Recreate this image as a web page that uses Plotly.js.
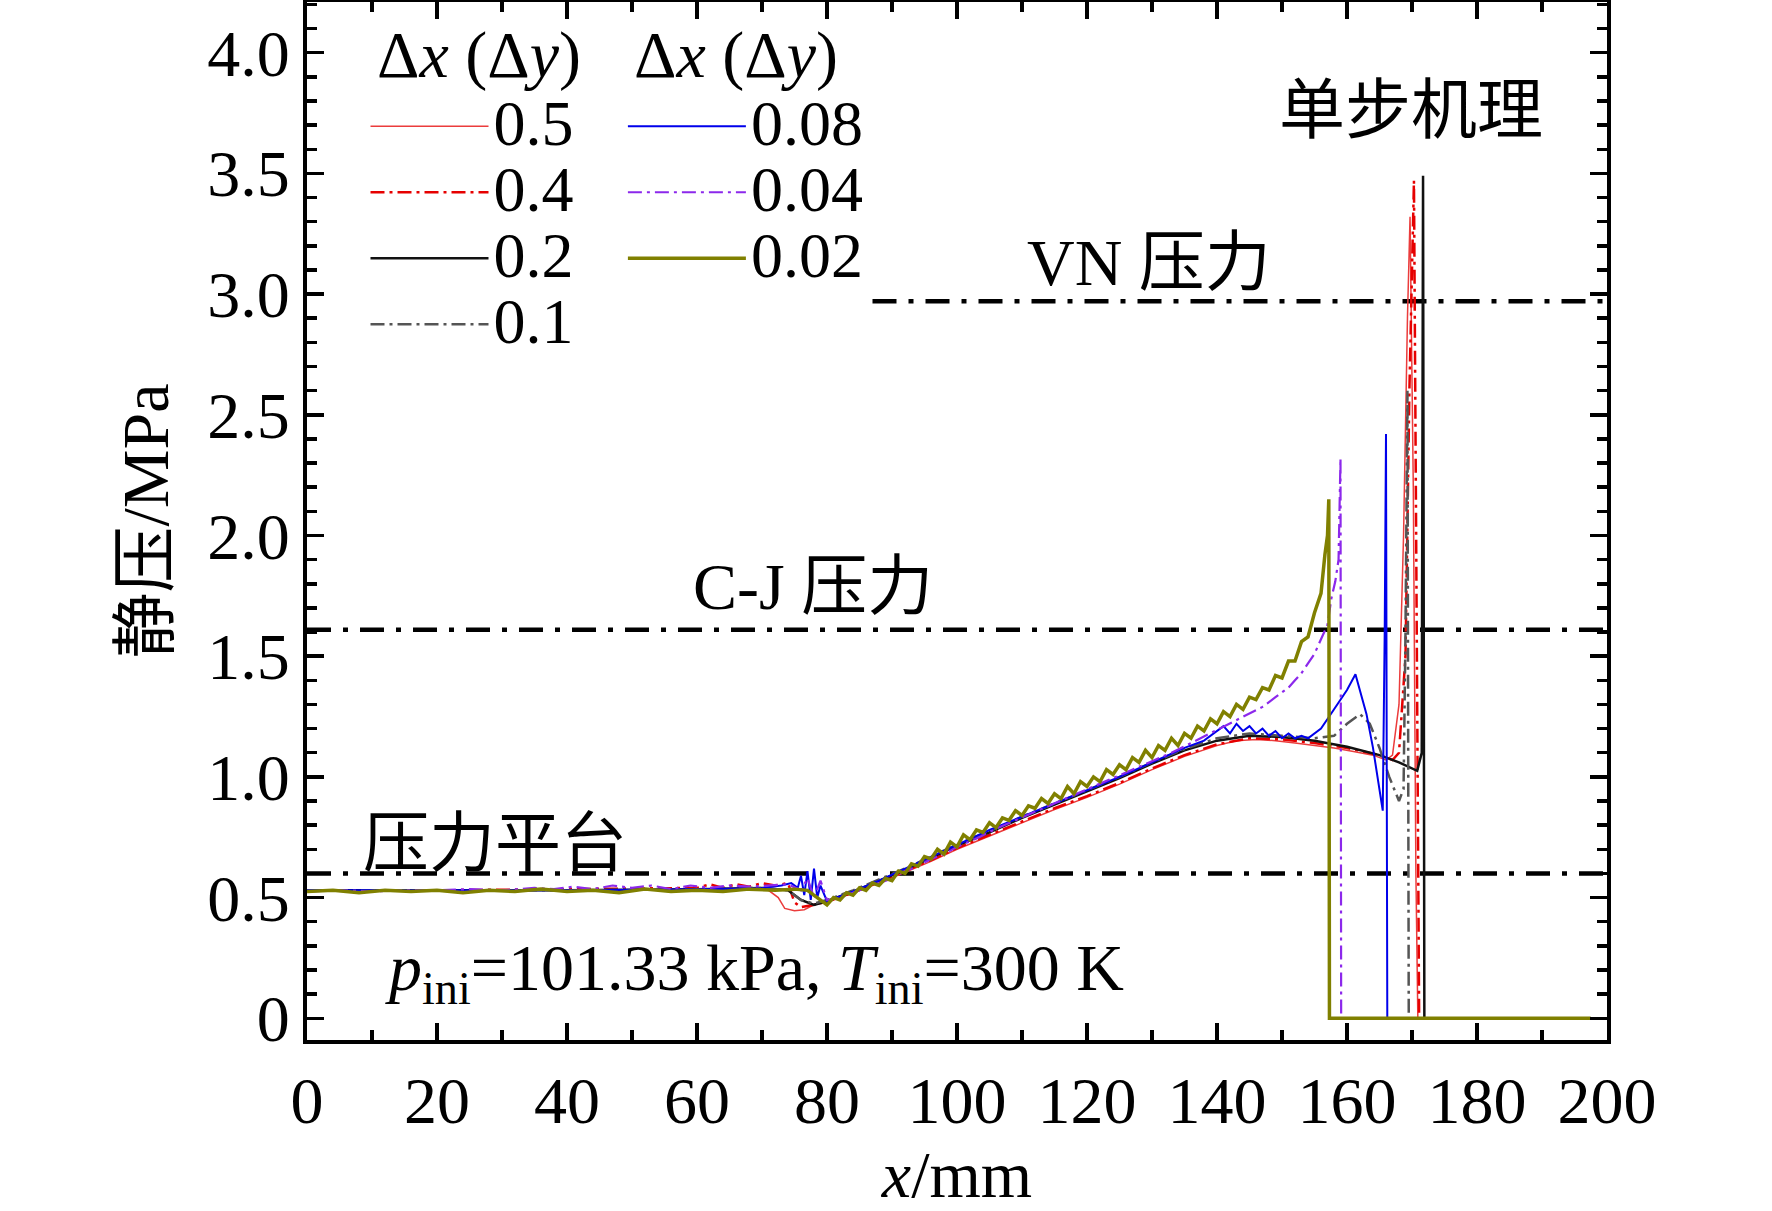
<!DOCTYPE html>
<html>
<head>
<meta charset="utf-8">
<script src="https://cdn.plot.ly/plotly-3.0.1.min.js"></script>
<style>
  html, body { margin: 0; padding: 0; background: #fff; }
  #chart { width: 1772px; height: 1211px; }
</style>
</head>
<body>
<div id="chart"></div>
<script>
/***********
  DATA
************/

// Δx (Δy) = 0.5
const x05 = [0, 20, 40, 60, 68, 71, 72.5, 73.5, 75, 76.5, 78, 80, 84, 88, 92, 96, 100, 105, 110, 115, 120, 125, 130, 135, 140, 143, 146, 149, 152, 155, 158, 161, 164, 166, 167, 168, 168.7, 169.3, 169.7, 170.2, 170.6, 170.9, 197.5];
const y05 = [0.53, 0.53, 0.53, 0.535, 0.54, 0.53, 0.5, 0.455, 0.445, 0.45, 0.47, 0.48, 0.52, 0.56, 0.605, 0.65, 0.7, 0.755, 0.81, 0.865, 0.915, 0.97, 1.03, 1.085, 1.13, 1.15, 1.155, 1.15, 1.14, 1.13, 1.12, 1.105, 1.09, 1.07, 1.09, 1.3, 2.0, 2.9, 3.32, 2.2, 0.6, 0, 0];

// Δx (Δy) = 0.4
const x04 = [0, 20, 40, 60, 62, 64, 66, 68, 70, 72, 74, 75, 76, 78, 80, 84, 88, 92, 96, 100, 105, 110, 115, 120, 125, 130, 135, 140, 145, 150, 155, 160, 165, 167, 168, 169, 169.6, 170.3, 170.7, 171.1, 197.5];
const y04 = [0.53, 0.53, 0.535, 0.54, 0.555, 0.54, 0.555, 0.545, 0.56, 0.55, 0.56, 0.48, 0.46, 0.47, 0.485, 0.52, 0.565, 0.61, 0.655, 0.705, 0.76, 0.815, 0.87, 0.92, 0.975, 1.035, 1.09, 1.135, 1.16, 1.155, 1.14, 1.12, 1.09, 1.07, 1.1, 1.5, 2.6, 3.47, 1.8, 0, 0];

// Δx (Δy) = 0.2
const x02 = [0, 20, 40, 60, 70, 74, 76, 78, 80, 84, 88, 92, 96, 100, 105, 110, 115, 120, 125, 130, 135, 140, 145, 150, 155, 160, 165, 168, 170.8, 171.5, 171.7, 171.9, 197.5];
const y02 = [0.53, 0.53, 0.53, 0.535, 0.54, 0.53, 0.49, 0.47, 0.485, 0.525, 0.57, 0.615, 0.665, 0.715, 0.77, 0.83, 0.885, 0.94, 0.995, 1.055, 1.11, 1.15, 1.17, 1.165, 1.15, 1.125, 1.09, 1.06, 1.025, 1.1, 3.49, 0, 0];

// Δx (Δy) = 0.1
const x01 = [0, 20, 40, 60, 70, 74, 76, 78, 80, 84, 88, 92, 96, 100, 105, 110, 115, 120, 125, 130, 135, 140, 145, 150, 155, 158, 160, 162, 163.5, 165, 166.5, 168, 168.7, 169.0, 169.3, 169.5, 197.5];
const y01 = [0.53, 0.53, 0.53, 0.535, 0.54, 0.53, 0.49, 0.475, 0.49, 0.53, 0.575, 0.62, 0.67, 0.72, 0.775, 0.835, 0.89, 0.945, 1.0, 1.06, 1.115, 1.16, 1.18, 1.17, 1.16, 1.17, 1.22, 1.26, 1.22, 1.12, 1.0, 0.9, 0.95, 1.6, 2.6, 0, 0];

// Δx (Δy) = 0.08
const x008 = [0, 20, 40, 60, 70, 73, 74.5, 75.5, 76, 76.5, 77, 77.5, 78, 78.5, 79, 80, 84, 88, 92, 96, 100, 105, 110, 115, 120, 125, 130, 135, 138, 140, 141, 142, 143, 144, 145, 146, 147, 148, 149, 150, 151, 152, 153, 154, 155, 156, 157, 158, 159, 160, 161.3, 162, 163, 164, 164.8, 165.5, 165.8, 166, 166.2, 197.5];
const y008 = [0.53, 0.53, 0.53, 0.535, 0.54, 0.55, 0.56, 0.54, 0.59, 0.51, 0.61, 0.49, 0.62, 0.5, 0.55, 0.485, 0.525, 0.57, 0.62, 0.67, 0.72, 0.78, 0.835, 0.89, 0.945, 1.0, 1.06, 1.12, 1.15, 1.19, 1.21, 1.18, 1.22, 1.19, 1.21, 1.18, 1.2, 1.17, 1.19, 1.16, 1.18, 1.16, 1.17, 1.16, 1.18, 1.2, 1.24, 1.28, 1.32, 1.36, 1.425, 1.36, 1.26, 1.12, 0.98, 0.86, 1.6, 2.42, 0, 0];

// Δx (Δy) = 0.04
const x004 = [0, 5, 10, 15, 20, 25, 30, 35, 38, 41, 44, 47, 50, 53, 56, 59, 62, 65, 68, 71, 74, 76, 77, 78, 79, 80, 82, 84, 86, 88, 90, 92, 94, 96, 98, 100, 103, 106, 109, 112, 115, 118, 121, 124, 127, 130, 133, 136, 139, 142, 145, 147, 149, 151, 152, 153, 154, 155, 156, 157, 157.6, 158.2, 158.7, 159.0, 159.1, 197.5];
const y004 = [0.525, 0.53, 0.525, 0.53, 0.53, 0.535, 0.53, 0.54, 0.535, 0.545, 0.535, 0.55, 0.54, 0.55, 0.535, 0.55, 0.54, 0.55, 0.545, 0.55, 0.555, 0.53, 0.58, 0.5, 0.57, 0.49, 0.5, 0.52, 0.54, 0.56, 0.58, 0.61, 0.63, 0.66, 0.68, 0.71, 0.745, 0.785, 0.82, 0.855, 0.89, 0.925, 0.96, 0.995, 1.03, 1.065, 1.1, 1.14, 1.18, 1.22, 1.26, 1.29, 1.33, 1.37, 1.4, 1.43, 1.47, 1.51, 1.57, 1.63, 1.74, 1.81, 1.9, 2.32, 0, 0];

// Δx (Δy) = 0.02
const x002 = [0, 4, 8, 12, 16, 20, 24, 28, 32, 36, 40, 44, 48, 52, 56, 60, 64, 68, 72, 75, 77, 78.5, 80,
  81, 82, 83, 84, 85, 86, 87, 88, 89, 90, 91, 92, 93, 94, 95, 96, 97, 98, 99, 100,
  101, 102, 103, 104, 105, 106, 107, 108, 109, 110, 111, 112, 113, 114, 115, 116, 117, 118, 119, 120,
  121, 122, 123, 124, 125, 126, 127, 128, 129, 130, 131, 132, 133, 134, 135, 136, 137, 138, 139, 140,
  141, 142, 143, 144, 145, 146, 147, 148, 149, 150, 151, 152, 153, 154, 155, 156, 156.6, 157.0, 157.2, 157.3, 197.5];
const y002 = [0.525, 0.53, 0.52, 0.53, 0.525, 0.53, 0.52, 0.53, 0.525, 0.535, 0.525, 0.53, 0.52, 0.535, 0.525, 0.53, 0.525, 0.535, 0.53, 0.535, 0.53, 0.5, 0.47,
  0.50, 0.49, 0.52, 0.51, 0.54, 0.53, 0.56, 0.55, 0.58, 0.57, 0.61, 0.60, 0.64, 0.63, 0.67, 0.66, 0.70, 0.68, 0.73, 0.71,
  0.76, 0.74, 0.78, 0.77, 0.81, 0.79, 0.83, 0.82, 0.86, 0.84, 0.88, 0.87, 0.91, 0.89, 0.93, 0.91, 0.96, 0.93, 0.98, 0.96,
  1.00, 0.98, 1.03, 1.01, 1.05, 1.03, 1.08, 1.06, 1.11, 1.08, 1.13, 1.11, 1.16, 1.13, 1.18, 1.16, 1.21, 1.19, 1.24, 1.22,
  1.27, 1.25, 1.30, 1.28, 1.33, 1.32, 1.37, 1.36, 1.42, 1.41, 1.48, 1.48, 1.56, 1.58, 1.68, 1.76, 1.92, 2.0, 2.15, 0, 0];

// reference pressures (MPa)
const plateauP = 0.6;
const cjP = 1.61;
const vnP = 2.97;
const refPX = [0, 200];
const vnX = [87, 200];

// axis ticks
const xTicks = [0, 20, 40, 60, 80, 100, 120, 140, 160, 180, 200];
const yTicks = [0, 0.5, 1.0, 1.5, 2.0, 2.5, 3.0, 3.5, 4.0];
const yTickText = ['0', '0.5', '1.0', '1.5', '2.0', '2.5', '3.0', '3.5', '4.0'];

const legendHeader = 'Δ<i>x</i> (Δ<i>y</i>)';

/***********
  STYLE
************/
const FONT = 'Liberation Serif, "Times New Roman", "Noto Sans CJK SC", serif';
const FS = 66;
const refLine = { color: '#000', width: 4.5, dash: '24px,12px,5px,12px' };
const dashDot = '14px,5px,3px,5px';

// legend rows are spaced by legend font size, label drawn bigger
function label(t) {
  return '<span style="font-size:64px">' + t + '</span>';
}

function ref(x, v) {
  return { x: x, y: x.map(() => v), mode: 'lines', line: refLine, showlegend: false, hoverinfo: 'skip' };
}

function series(x, y, name, color, width, dash, legend) {
  return {
    x: x, y: y, name: label(name), mode: 'lines', legend: legend,
    line: { color: color, width: width, dash: dash || 'solid' }
  };
}

const plotData = [
  ref(refPX, plateauP),
  ref(refPX, cjP),
  ref(vnX, vnP),
  series(x05, y05, '0.5', 'rgb(235,60,60)', 1.5, null, 'legend'),
  series(x04, y04, '0.4', 'rgb(230,0,0)', 2.5, dashDot, 'legend'),
  series(x02, y02, '0.2', '#111', 2.5, null, 'legend'),
  series(x01, y01, '0.1', '#555', 2.5, dashDot, 'legend'),
  series(x008, y008, '0.08', 'rgb(0,0,235)', 2, null, 'legend2'),
  series(x004, y004, '0.04', 'rgb(140,40,235)', 2.2, dashDot, 'legend2'),
  series(x002, y002, '0.02', 'rgb(128,128,0)', 3.5, null, 'legend2')
];

const legendBase = {
  xanchor: 'left', yanchor: 'top', bgcolor: 'rgba(0,0,0,0)', borderwidth: 0,
  itemwidth: 118, font: { family: FONT, size: 48.5, color: '#000' }
};

const axisBase = {
  showline: true, linewidth: 4, linecolor: '#000', mirror: 'ticks',
  ticks: 'inside', ticklen: 17, tickwidth: 3.5, tickcolor: '#000',
  showgrid: false, zeroline: false,
  tickfont: { family: FONT, size: FS, color: '#000' }
};

function note(text, x, y) {
  return { text: text, x: x, y: y, xref: 'x', yref: 'y', showarrow: false,
    font: { family: FONT, size: FS, color: '#000' } };
}

function header(x) {
  return { text: legendHeader, x: x, y: 0.949, xref: 'paper', yref: 'paper',
    xanchor: 'left', yanchor: 'middle', showarrow: false,
    font: { family: FONT, size: FS, color: '#000' } };
}

const layout = {
  width: 1772, height: 1211,
  margin: { l: 307, r: 165, t: 2, b: 171 },
  paper_bgcolor: '#fff', plot_bgcolor: '#fff',
  font: { family: FONT, size: FS, color: '#000' },
  xaxis: Object.assign({}, axisBase, {
    range: [0, 200], tickmode: 'array', tickvals: xTicks,
    minor: { tickmode: 'linear', tick0: 0, dtick: 10, ticks: 'inside', ticklen: 10, tickwidth: 3.5, tickcolor: '#000' },
    title: { text: '<i>x</i>/mm', font: { family: FONT, size: FS }, standoff: 25 }
  }),
  yaxis: Object.assign({}, axisBase, {
    range: [-0.09, 4.21], tickmode: 'array', tickvals: yTicks, ticktext: yTickText,
    minor: { tickmode: 'linear', tick0: 0, dtick: 0.1, ticks: 'inside', ticklen: 10, tickwidth: 3.5, tickcolor: '#000' },
    title: { text: '静压/MPa', font: { family: FONT, size: FS }, standoff: 18 }
  }),
  legend: Object.assign({}, legendBase, { x: 0.045, y: 0.917 }),
  legend2: Object.assign({}, legendBase, { x: 0.243, y: 0.917 }),
  annotations: [
    header(0.052),
    header(0.25),
    note('单步机理', 169.8, 3.76),
    note('VN 压力', 129.5, 3.13),
    note('C-J 压力', 77.8, 1.79),
    note('压力平台', 28.9, 0.725),
    note('<i>p</i><sub>ini</sub>=101.33 kPa, <i>T</i><sub>ini</sub>=300 K', 68.9, 0.19)
  ],
  showlegend: true
};

Plotly.newPlot('chart', plotData, layout, { staticPlot: true });
</script>
</body>
</html>
